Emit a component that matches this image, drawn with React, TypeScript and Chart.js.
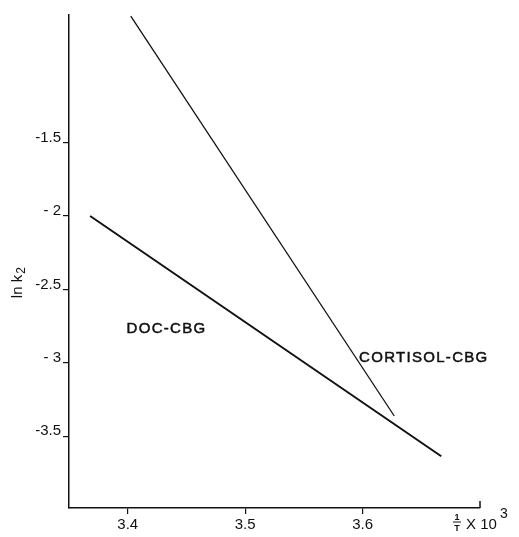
import React, { useEffect, useRef } from "react";
import { Chart, registerables } from "chart.js";

Chart.register(...registerables);

// ---- data ----
const xTicks = [3.4, 3.5, 3.6];
const xTickLabels = ["3.4", "3.5", "3.6"];
const yTicks = [-1.5, -2, -2.5, -3, -3.5];
const yTickLabels = ["-1.5", "- 2", "-2.5", "- 3", "-3.5"];

const docX = [3.368, 3.667];
const docY = [-2.0, -3.637];
const cortisolX = [3.4026, 3.627];
const cortisolY = [-0.637, -3.363];

const seriesNames = ["DOC-CBG", "CORTISOL-CBG"];
// label anchors (data units: left edge, vertical centre)
const labelX = [3.399, 3.597];
const labelY = [-2.767, -2.966];

const X_MIN = 3.35;
const X_MAX = 3.7;
const Y_MIN = -3.99;
const Y_MAX = -0.63;

const INK = "#111111";
const FONT = "'Liberation Sans', Arial, sans-serif";

const annotate = {
  id: "annotate",
  afterDraw(chart: any) {
    const ctx = chart.ctx;
    const xs = chart.scales.x;
    const ys = chart.scales.y;
    const area = chart.chartArea;
    ctx.save();
    ctx.fillStyle = INK;
    ctx.strokeStyle = INK;

    // series labels
    ctx.font = `15px ${FONT}`;
    (ctx as any).letterSpacing = "1.3px";
    ctx.textBaseline = "middle";
    ctx.textAlign = "left";
    ctx.lineWidth = 0.5;
    seriesNames.forEach((name, i) => {
      const px = xs.getPixelForValue(labelX[i]);
      const py = ys.getPixelForValue(labelY[i]);
      ctx.fillText(name, px, py);
      ctx.strokeText(name, px, py);
    });
    (ctx as any).letterSpacing = "0px";

    // end marker of x axis
    ctx.lineWidth = 1.5;
    ctx.beginPath();
    ctx.moveTo(area.right, area.bottom);
    ctx.lineTo(area.right, area.bottom - 7);
    ctx.stroke();

    // y title "ln k2" rotated
    ctx.save();
    ctx.translate(18, 282);
    ctx.rotate(-Math.PI / 2);
    ctx.textBaseline = "middle";
    ctx.textAlign = "left";
    ctx.font = `15px ${FONT}`;
    const w1 = ctx.measureText("ln k").width;
    const total = w1 + 9;
    ctx.fillText("ln k", -total / 2, 0);
    ctx.font = `12px ${FONT}`;
    ctx.fillText("2", -total / 2 + w1 + 1, 4);
    ctx.restore();

    // x title: 1/T x 10^3
    const fx = area.right - 23;
    const by = area.bottom + 14;
    ctx.textAlign = "center";
    ctx.textBaseline = "alphabetic";
    ctx.font = `bold 9px ${FONT}`;
    ctx.fillText("1", fx, by - 2);
    ctx.lineWidth = 1;
    ctx.beginPath();
    ctx.moveTo(fx - 4, by);
    ctx.lineTo(fx + 4, by);
    ctx.stroke();
    ctx.fillText("T", fx, by + 9);
    ctx.textAlign = "left";
    ctx.font = `15px ${FONT}`;
    ctx.fillText("X 10", fx + 9, by + 7);
    ctx.font = `14px ${FONT}`;
    ctx.fillText("3", fx + 43, by - 4);
    ctx.restore();
  },
};

export default function App() {
  const ref = useRef<HTMLCanvasElement | null>(null);
  useEffect(() => {
    if (!ref.current) return;
    const chart = new Chart(ref.current, {
      type: "line",
      data: {
        datasets: [
          {
            label: seriesNames[0],
            data: docX.map((x, i) => ({ x, y: docY[i] })),
            borderColor: INK,
            borderWidth: 2,
            pointRadius: 0,
          },
          {
            label: seriesNames[1],
            data: cortisolX.map((x, i) => ({ x, y: cortisolY[i] })),
            borderColor: INK,
            borderWidth: 1.3,
            pointRadius: 0,
          },
        ],
      },
      plugins: [annotate],
      options: {
        responsive: false,
        animation: false,
        layout: { padding: { top: 15, right: 39, left: 0, bottom: 0 } },
        plugins: { legend: { display: false }, tooltip: { enabled: false } },
        scales: {
          x: {
            type: "linear",
            min: X_MIN,
            max: X_MAX,
            afterBuildTicks: (s: any) => {
              s.ticks = xTicks.map((v) => ({ value: v }));
            },
            afterFit: (s: any) => {
              s.height = 29;
            },
            border: { display: true, color: INK, width: 1.5 },
            grid: { drawOnChartArea: false, drawTicks: true, tickLength: 6, color: INK, lineWidth: 1.2 },
            ticks: {
              color: INK,
              font: { family: FONT, size: 15 },
              padding: 2,
              maxRotation: 0,
              callback: (v: any) => {
                const i = xTicks.findIndex((t) => Math.abs(t - v) < 1e-9);
                return i >= 0 ? xTickLabels[i] : "";
              },
            },
          },
          y: {
            type: "linear",
            min: Y_MIN,
            max: Y_MAX,
            afterBuildTicks: (s: any) => {
              s.ticks = yTicks.map((v) => ({ value: v }));
            },
            afterFit: (s: any) => {
              s.width = 69;
            },
            border: { display: true, color: INK, width: 1.5 },
            grid: { drawOnChartArea: false, drawTicks: true, tickLength: 6, color: INK, lineWidth: 1.2 },
            ticks: {
              color: INK,
              font: { family: FONT, size: 15 },
              padding: 2,
              labelOffset: -5,
              callback: (v: any) => {
                const i = yTicks.findIndex((t) => Math.abs(t - v) < 1e-9);
                return i >= 0 ? yTickLabels[i] : "";
              },
            },
          },
        },
      },
    } as any);
    return () => chart.destroy();
  }, []);
  return (
    <div style={{ position: "fixed", left: 0, top: 0, width: 519, height: 537, background: "#fff" }}>
      <canvas ref={ref} width={519} height={537} style={{ display: "block" }} />
    </div>
  );
}
